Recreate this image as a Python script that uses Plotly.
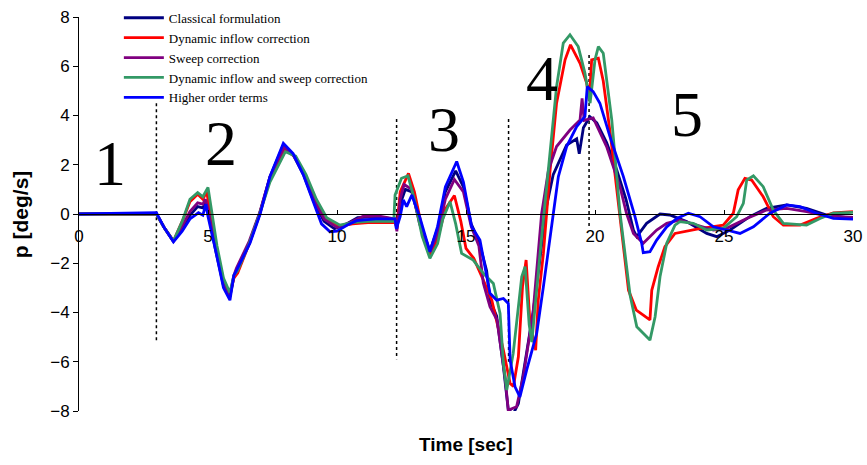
import plotly.graph_objects as go

# ---------------- data ----------------
classical_t = [0, 3.0, 3.3, 3.66, 4.0, 4.3, 4.6, 4.8, 4.9, 5.0, 5.3, 5.6, 5.85, 6.0, 6.1, 6.6, 7.0, 7.4, 7.9, 8.3, 8.7, 9.1, 9.5, 9.9, 10.3, 10.8, 11.5, 12.25, 12.32, 12.45, 12.65, 12.9, 13.2, 13.6, 13.9, 14.2, 14.6, 14.9, 15.2, 15.5, 15.8, 15.93, 16.19, 16.45, 16.64, 16.84, 17.03, 17.35, 17.6, 17.87, 18.1, 18.38, 18.9, 19.29, 19.39, 19.55, 19.8, 20.07, 20.45, 20.84, 21.2, 21.49, 21.62, 22.0, 22.52, 22.9, 23.55, 24.33, 24.72, 25.23, 26.0, 26.65, 27.43, 28.2, 28.98, 30]
classical_p = [0, 0, -0.55, -1.1, -0.6, -0.05, 0.3, 0.25, 0.45, 0.1, -1.5, -2.9, -3.35, -2.6, -2.3, -1.2, 0, 1.5, 2.75, 2.4, 1.6, 0.5, -0.3, -0.6, -0.45, -0.15, -0.12, -0.2, -0.6, 0.4, 1.0, 0.9, -0.3, -1.5, -0.6, 0.9, 1.75, 1.1, -0.4, -1.1, -2.3, -3.5, -4.15, -6.2, -7.97, -8.1, -7.7, -5.7, -4.0, -1.8, 0.2, 1.6, 2.8, 3.05, 2.45, 3.5, 3.95, 3.7, 2.9, 1.8, 0.6, -0.65, -0.92, -0.38, 0, -0.04, -0.31, -0.79, -0.92, -0.65, -0.11, 0.23, 0.37, 0.23, -0.04, -0.18]

dyn_t = [0, 3.0, 3.3, 3.66, 4.0, 4.3, 4.6, 4.8, 4.95, 5.05, 5.3, 5.6, 5.85, 6.0, 6.15, 6.6, 7.0, 7.4, 8.0, 8.4, 8.8, 9.2, 9.6, 10.1, 10.6, 11.2, 12.25, 12.32, 12.45, 12.77, 13.0, 13.3, 13.6, 13.9, 14.2, 14.55, 14.8, 15.0, 15.3, 15.67, 16.0, 16.45, 16.71, 16.84, 17.03, 17.19, 17.33, 17.48, 17.7, 17.8, 18.0, 18.26, 18.51, 18.84, 19.05, 19.42, 19.68, 19.78, 19.87, 20.13, 20.32, 20.6, 20.85, 21.1, 21.3, 21.6, 22.13, 22.2, 22.45, 22.71, 23.1, 24.0, 24.97, 25.36, 25.55, 25.81, 26.07, 26.52, 26.91, 27.3, 27.95, 28.59, 29.24, 30]
dyn_p = [0, 0, -0.55, -1.1, -0.3, 0.5, 0.8, 0.6, 0.9, 0.3, -1.3, -2.7, -3.25, -2.6, -2.4, -1.2, 0, 1.4, 2.6, 2.3, 1.5, 0.4, -0.2, -0.5, -0.4, -0.35, -0.35, -0.5, 0.9, 1.65, 0.9, -0.6, -1.65, -1.0, 0.2, 0.75, -0.3, -1.4, -1.8, -2.68, -3.5, -5.53, -6.88, -7.0, -5.8, -2.95, -1.87, -4.44, -5.53, -3.5, -1.6, 1.79, 4.5, 6.26, 6.87, 6.12, 5.31, 4.6, 6.26, 6.33, 5.4, 3.2, 1.0, -1.3, -3.1, -3.9, -4.3, -3.1, -2.14, -1.33, -0.79, -0.6, -0.45, 0.03, 0.98, 1.45, 1.38, 0.7, -0.11, -0.45, -0.45, -0.18, 0.05, 0.1]

sweep_t = [0, 3.0, 3.3, 3.66, 4.0, 4.3, 4.6, 4.8, 4.9, 5.0, 5.3, 5.6, 5.85, 6.0, 6.1, 6.6, 7.0, 7.4, 7.95, 8.3, 8.7, 9.1, 9.5, 10.0, 10.5, 11.0, 11.7, 12.25, 12.32, 12.45, 12.6, 12.9, 13.2, 13.6, 13.9, 14.2, 14.55, 14.9, 15.2, 15.5, 15.67, 15.93, 16.2, 16.38, 16.51, 16.64, 16.96, 17.22, 17.6, 17.93, 18.2, 18.51, 19.03, 19.42, 19.5, 19.58, 19.93, 20.45, 20.97, 21.22, 21.49, 21.87, 22.39, 22.78, 23.29, 23.94, 24.59, 25.1, 25.88, 26.65, 27.43, 28.2, 28.98, 30]
sweep_p = [0, 0, -0.55, -1.1, -0.5, 0.1, 0.45, 0.4, 0.6, 0.2, -1.4, -2.8, -3.3, -2.5, -2.2, -1.1, 0.05, 1.5, 2.7, 2.4, 1.7, 0.6, -0.2, -0.55, -0.35, -0.1, -0.1, -0.2, -0.7, 0.6, 1.2, 1.0, -0.4, -1.55, -0.8, 0.6, 1.4, 0.9, -0.5, -1.3, -2.8, -3.77, -4.3, -5.53, -6.61, -7.97, -7.83, -6.61, -4.0, 0, 1.8, 2.74, 3.41, 3.82, 4.7, 3.8, 3.9, 2.74, 1.1, 0.03, -0.79, -1.19, -0.65, -0.38, -0.24, -0.45, -0.65, -0.58, -0.18, 0.16, 0.23, 0.1, -0.08, -0.14]

both_t = [0, 3.0, 3.3, 3.66, 4.0, 4.3, 4.6, 4.8, 5.0, 5.1, 5.35, 5.6, 5.85, 6.0, 6.15, 6.6, 7.0, 7.4, 8.0, 8.4, 8.8, 9.2, 9.6, 10.1, 10.6, 11.2, 12.2, 12.25, 12.5, 12.75, 13.0, 13.3, 13.6, 13.9, 14.1, 14.38, 14.6, 14.83, 15.28, 15.67, 16.06, 16.32, 16.45, 16.58, 16.83, 17.16, 17.29, 17.45, 17.55, 17.87, 18.26, 18.51, 18.77, 19.03, 19.35, 19.61, 19.81, 20.0, 20.13, 20.32, 20.65, 20.97, 21.36, 21.62, 22.13, 22.33, 22.52, 22.78, 23.1, 23.29, 23.81, 24.33, 24.97, 25.49, 25.75, 25.88, 26.14, 26.52, 26.91, 27.3, 28.2, 28.72, 29.24, 30]
both_p = [0, 0, -0.55, -1.1, -0.3, 0.6, 0.87, 0.7, 1.08, 0.4, -1.3, -2.6, -3.2, -2.5, -2.3, -1.2, 0, 1.3, 2.53, 2.35, 1.6, 0.6, -0.15, -0.45, -0.35, -0.3, -0.3, 0.77, 1.45, 1.55, 0.6, -0.9, -1.8, -1.2, -0.2, 0.5, -0.4, -1.6, -1.87, -2.41, -2.82, -4.04, -6.07, -7.15, -5.66, -2.55, -2.14, -4.5, -5.2, -1.6, 2.47, 5.17, 6.94, 7.28, 6.8, 5.72, 4.5, 6.26, 6.8, 6.53, 3.82, 0.03, -3.3, -4.58, -5.12, -4.17, -2.55, -1.19, -0.45, -0.31, -0.38, -0.65, -0.58, -0.11, 0.43, 1.38, 1.55, 1.11, 0.16, -0.38, -0.45, -0.18, 0.03, 0.07]

higher_t = [0, 3.0, 3.3, 3.66, 4.0, 4.3, 4.63, 4.8, 4.92, 5.0, 5.3, 5.6, 5.85, 6.0, 6.1, 6.63, 7.02, 7.4, 7.92, 8.3, 8.69, 9.1, 9.4, 9.73, 10.0, 10.4, 10.76, 11.5, 12.25, 12.3, 12.45, 12.57, 12.7, 12.9, 13.2, 13.6, 13.9, 14.2, 14.64, 14.9, 15.22, 15.54, 15.61, 15.8, 15.93, 16.19, 16.45, 16.64, 16.71, 16.9, 17.09, 17.35, 17.74, 18.0, 18.32, 18.58, 18.9, 19.29, 19.61, 19.7, 19.93, 20.19, 20.58, 21.1, 21.55, 21.81, 21.87, 22.13, 22.39, 22.78, 23.17, 23.62, 24.07, 24.59, 25.1, 25.62, 26.14, 26.78, 27.43, 27.95, 28.59, 29.24, 30]
higher_p = [0, 0.05, -0.55, -1.13, -0.7, -0.2, 0.05, -0.05, 0.4, -0.1, -1.5, -3.0, -3.5, -2.5, -2.3, -1.18, 0, 1.52, 2.87, 2.45, 1.6, 0.4, -0.4, -0.72, -0.7, -0.45, -0.27, -0.2, -0.2, -0.6, -0.1, 0.57, 0.3, 0.77, -0.1, -1.53, -0.5, 1.1, 2.13, 1.3, -0.52, -1.06, -1.46, -2.55, -3.22, -3.5, -3.43, -3.63, -5.93, -7.02, -7.43, -6.34, -4.85, -2.95, -0.52, 1.52, 2.74, 3.55, 3.96, 5.17, 4.97, 4.5, 3.14, 1.52, -0.11, -1.19, -1.57, -1.53, -1.06, -0.52, -0.18, 0.03, -0.11, -0.52, -0.65, -0.79, -0.52, 0.03, 0.37, 0.3, 0.03, -0.18, -0.21]

series_names = ["Classical formulation", "Dynamic inflow correction", "Sweep correction",
                "Dynamic inflow and sweep correction", "Higher order terms"]
series_colors = ["#000080", "#FF0000", "#800080", "#339966", "#0000FF"]

x_ticks = [0, 5, 10, 15, 20, 25, 30]
y_ticks = [-8, -6, -4, -2, 0, 2, 4, 6, 8]

# phase separators (time, top, bottom)
phase_t = [3.0, 12.31, 16.65, 19.77]
phase_top = [4.5, 3.86, 3.86, 6.46]
phase_bottom = [-5.25, -5.9, -6.0, -0.57]

# phase labels
phase_labels = ["1", "2", "3", "4", "5"]
phase_label_t = [1.2, 5.5, 14.15, 17.93, 23.55]
phase_label_p = [2.05, 2.85, 3.45, 5.5, 4.05]

# ---------------- figure ----------------
fig = go.Figure()
all_t = [classical_t, dyn_t, sweep_t, both_t, higher_t]
all_p = [classical_p, dyn_p, sweep_p, both_p, higher_p]
for name, col, t, p in zip(series_names, series_colors, all_t, all_p):
    fig.add_trace(go.Scatter(x=t, y=p, mode="lines", name=name,
                             line=dict(color=col, width=2.8)))

for t, y0, y1 in zip(phase_t, phase_top, phase_bottom):
    fig.add_shape(type="line", x0=t, x1=t, y0=y0, y1=y1, xref="x", yref="y",
                  line=dict(color="black", width=1.5, dash="dot"), layer="below")

for lab, t, p in zip(phase_labels, phase_label_t, phase_label_p):
    fig.add_annotation(x=t, y=p, text=lab, showarrow=False, xanchor="center", yanchor="middle",
                       font=dict(family="Liberation Serif", size=64, color="black"))

fig.add_annotation(x=0.5, xref="paper", y=-0.085, yref="paper", text="<b>Time [sec]</b>",
                   showarrow=False, font=dict(family="Liberation Sans", size=19, color="black"),
                   xanchor="center", yanchor="middle")
fig.add_annotation(x=-0.076, xref="paper", y=0.5, yref="paper", text="<b>p [deg/s]</b>",
                   showarrow=False, textangle=-90,
                   font=dict(family="Liberation Sans", size=21, color="black"),
                   xanchor="center", yanchor="middle")

fig.update_layout(
    width=867, height=465,
    margin=dict(l=79, r=14, t=17, b=54, autoexpand=False),
    paper_bgcolor="white", plot_bgcolor="white",
    showlegend=True,
    legend=dict(x=0.0515, y=1.036, xanchor="left", yanchor="top",
                font=dict(family="Liberation Serif", size=13, color="black"),
                bgcolor="rgba(0,0,0,0)", itemwidth=40, tracegroupgap=0),
    font=dict(family="Liberation Sans", color="black"),
)
fig.update_xaxes(range=[0, 30], tickvals=x_ticks, anchor="free", position=0.5,
                 showline=True, linecolor="black", linewidth=1, ticks="inside", ticklen=4,
                 tickcolor="black", showgrid=False, zeroline=False,
                 tickfont=dict(family="Liberation Sans", size=17, color="black"),
                 ticklabelstandoff=7)
fig.update_yaxes(range=[-8, 8], tickvals=y_ticks, showline=True, linecolor="black", linewidth=1,
                 ticks="outside", ticklen=5, tickcolor="black", showgrid=False, zeroline=False,
                 tickfont=dict(family="Liberation Sans", size=17, color="black"))

fig.write_html("out.html")
